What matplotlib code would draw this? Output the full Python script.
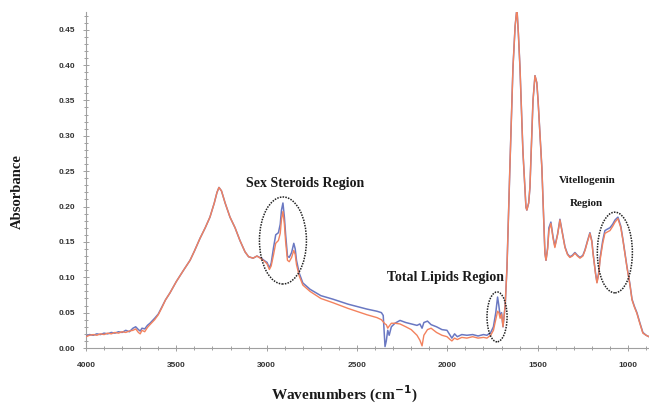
import matplotlib
matplotlib.use("Agg")
import matplotlib.pyplot as plt
from matplotlib.patches import Ellipse
from matplotlib.ticker import MultipleLocator, FormatStrFormatter

# Wavenumbers (cm-1) and absorbance of the two spectra
wavenumbers = [4000, 3980, 3960, 3940, 3920, 3900, 3880, 3860, 3840, 3820, 3800, 3780, 3760, 3740, 3725,
               3710, 3700, 3690, 3675, 3660, 3646, 3620, 3600, 3580, 3560, 3535, 3500, 3460, 3424, 3400,
               3369, 3340, 3314, 3290, 3275, 3264, 3250, 3230, 3203, 3175, 3148, 3120, 3100, 3075, 3054,
               3030, 3010, 2998, 2985, 2975, 2962, 2950, 2935, 2925, 2918, 2910, 2902, 2895, 2885, 2875,
               2862, 2850, 2842, 2835, 2820, 2800, 2760, 2700, 2633, 2550, 2445, 2390, 2365, 2355, 2345,
               2338, 2330, 2322, 2310, 2290, 2262, 2230, 2200, 2168, 2152, 2140, 2130, 2110, 2090, 2060,
               2030, 2002, 1985, 1975, 1960, 1945, 1920, 1892, 1860, 1830, 1800, 1781, 1760, 1745, 1732,
               1722, 1715, 1708, 1700, 1692, 1680, 1670, 1654, 1637, 1625, 1615, 1607, 1598, 1582, 1565,
               1560, 1550, 1543, 1526, 1515, 1505, 1498, 1477, 1460, 1454, 1445, 1438, 1427, 1415, 1405,
               1390, 1377, 1362, 1349, 1335, 1322, 1308, 1294, 1280, 1266, 1250, 1238, 1225, 1211, 1200,
               1194, 1180, 1172, 1162, 1155, 1140, 1128, 1115, 1100, 1085, 1072, 1056, 1040, 1028, 1015,
               1006, 990, 978, 965, 951, 935, 918, 900, 884]

blue_abs = [0.017, 0.019, 0.018, 0.020, 0.019, 0.021, 0.020, 0.022, 0.021, 0.023, 0.022, 0.025, 0.023, 0.028, 0.030,
            0.026, 0.024, 0.028, 0.027, 0.032, 0.035, 0.042, 0.048, 0.058, 0.068, 0.078, 0.094, 0.110, 0.124, 0.137,
            0.155, 0.170, 0.185, 0.205, 0.220, 0.227, 0.222, 0.205, 0.185, 0.170, 0.152, 0.136, 0.129, 0.127, 0.130,
            0.127, 0.123, 0.121, 0.113, 0.120, 0.142, 0.160, 0.163, 0.175, 0.195, 0.205, 0.185, 0.160, 0.130, 0.128,
            0.135, 0.148, 0.140, 0.124, 0.106, 0.092, 0.083, 0.074, 0.069, 0.062, 0.055, 0.052, 0.050, 0.046, 0.002,
            0.010, 0.025, 0.018, 0.030, 0.035, 0.039, 0.036, 0.034, 0.032, 0.034, 0.028, 0.036, 0.038, 0.033, 0.030,
            0.026, 0.025, 0.018, 0.014, 0.020, 0.016, 0.019, 0.018, 0.019, 0.017, 0.019, 0.018, 0.022, 0.030, 0.050,
            0.072, 0.060, 0.045, 0.050, 0.030, 0.060, 0.114, 0.255, 0.396, 0.455, 0.480, 0.445, 0.396, 0.279, 0.199,
            0.195, 0.205, 0.227, 0.350, 0.385, 0.375, 0.350, 0.255, 0.134, 0.124, 0.142, 0.170, 0.178, 0.157, 0.144,
            0.161, 0.182, 0.161, 0.143, 0.133, 0.129, 0.131, 0.135, 0.131, 0.128, 0.131, 0.139, 0.151, 0.163, 0.151,
            0.135, 0.106, 0.093, 0.107, 0.127, 0.152, 0.166, 0.168, 0.170, 0.175, 0.181, 0.185, 0.172, 0.153, 0.131,
            0.115, 0.091, 0.069, 0.059, 0.050, 0.036, 0.022, 0.018, 0.016]

orange_abs = [0.016, 0.018, 0.019, 0.018, 0.020, 0.019, 0.021, 0.020, 0.022, 0.021, 0.023, 0.022, 0.024, 0.025, 0.027,
              0.022, 0.020, 0.025, 0.023, 0.029, 0.033, 0.040, 0.047, 0.057, 0.068, 0.078, 0.094, 0.110, 0.124, 0.137,
              0.155, 0.170, 0.185, 0.205, 0.220, 0.227, 0.222, 0.205, 0.185, 0.170, 0.152, 0.136, 0.129, 0.127, 0.130,
              0.126, 0.122, 0.119, 0.111, 0.116, 0.132, 0.148, 0.152, 0.162, 0.182, 0.193, 0.175, 0.150, 0.124, 0.122,
              0.128, 0.138, 0.132, 0.118, 0.102, 0.089, 0.080, 0.070, 0.064, 0.056, 0.047, 0.043, 0.040, 0.037, 0.034,
              0.033, 0.028, 0.031, 0.035, 0.035, 0.034, 0.030, 0.026, 0.018, 0.011, 0.003, 0.018, 0.026, 0.028, 0.022,
              0.018, 0.016, 0.012, 0.010, 0.014, 0.012, 0.015, 0.014, 0.016, 0.014, 0.015, 0.014, 0.018, 0.025, 0.040,
              0.052, 0.050, 0.042, 0.048, 0.030, 0.060, 0.114, 0.255, 0.396, 0.455, 0.480, 0.445, 0.396, 0.279, 0.199,
              0.195, 0.205, 0.227, 0.350, 0.385, 0.375, 0.350, 0.255, 0.134, 0.124, 0.140, 0.166, 0.176, 0.155, 0.142,
              0.160, 0.181, 0.160, 0.142, 0.132, 0.128, 0.130, 0.134, 0.130, 0.127, 0.130, 0.138, 0.150, 0.162, 0.150,
              0.134, 0.105, 0.092, 0.105, 0.124, 0.148, 0.162, 0.164, 0.166, 0.172, 0.178, 0.183, 0.170, 0.152, 0.130,
              0.114, 0.090, 0.068, 0.058, 0.049, 0.035, 0.021, 0.018, 0.016]

x_ticks = [4000, 3500, 3000, 2500, 2000, 1500, 1000]

serif = ["Liberation Serif", "DejaVu Serif"]
sans = ["Liberation Sans", "DejaVu Sans"]

fig = plt.figure(figsize=(6.49, 4.04), dpi=100)
ax = fig.add_axes([0.1325, 0.1386, 0.8675, 0.8317])

ax.plot(wavenumbers, blue_abs, color="#6a78c2", lw=1.1, zorder=3)
ax.plot(wavenumbers, orange_abs, color="#f3825e", lw=1.0, zorder=4)

ax.set_xlim(4000, 884)
ax.set_ylim(0, 0.475)

ax.set_xticks(x_ticks)
ax.xaxis.set_minor_locator(MultipleLocator(100))
ax.yaxis.set_major_locator(MultipleLocator(0.05))
ax.yaxis.set_minor_locator(MultipleLocator(0.01))
ax.yaxis.set_major_formatter(FormatStrFormatter("%.2f"))

for s in ["top", "right"]:
    ax.spines[s].set_visible(False)
for s in ["left", "bottom"]:
    ax.spines[s].set_color("#a0a0a0")
    ax.spines[s].set_linewidth(0.8)

ax.tick_params(which="both", direction="inout", color="#909090", width=0.6)
ax.tick_params(which="major", length=4)
ax.tick_params(which="minor", length=2.5)
ax.tick_params(axis="y", pad=6)
ax.tick_params(axis="x", pad=8)
for lab in ax.get_xticklabels() + ax.get_yticklabels():
    lab.set_fontfamily(sans)
    lab.set_fontweight("bold")
    lab.set_fontsize(6)
    lab.set_color("#333333")

# ellipses around regions
ell_kw = dict(fill=False, edgecolor="#222222", lw=1.1, linestyle=(0, (1, 0.8)), zorder=5)
ax.add_patch(Ellipse((2910, 0.152), 260, 0.123, **ell_kw))
ax.add_patch(Ellipse((1725, 0.044), 111, 0.0705, **ell_kw))
ax.add_patch(Ellipse((1073, 0.135), 194, 0.114, **ell_kw))

tkw = dict(family=serif, fontweight="bold", ha="center", va="center", color="#1a1a1a")
ax.text(2788, 0.233, "Sex Steroids Region", fontsize=10, **tkw)
ax.text(2008, 0.100, "Total Lipids Region", fontsize=10, **tkw)
ax.text(1227, 0.237, "Vitellogenin", fontsize=8, **tkw)
ax.text(1233, 0.2045, "Region", fontsize=8, **tkw)

fig.text(17 / 649, 1 - 192 / 404, "Absorbance", rotation=90, fontsize=10.5,
         family=serif, fontweight="bold", ha="center", va="center", color="#1a1a1a")
fig.text(344 / 649, 1 - 394 / 404, "Wavenumbers (cm$^{\\mathbf{-1}}$)", fontsize=11,
         family=serif, fontweight="bold", ha="center", va="center", color="#1a1a1a")

fig.savefig("out.png", dpi=100, facecolor="white")
